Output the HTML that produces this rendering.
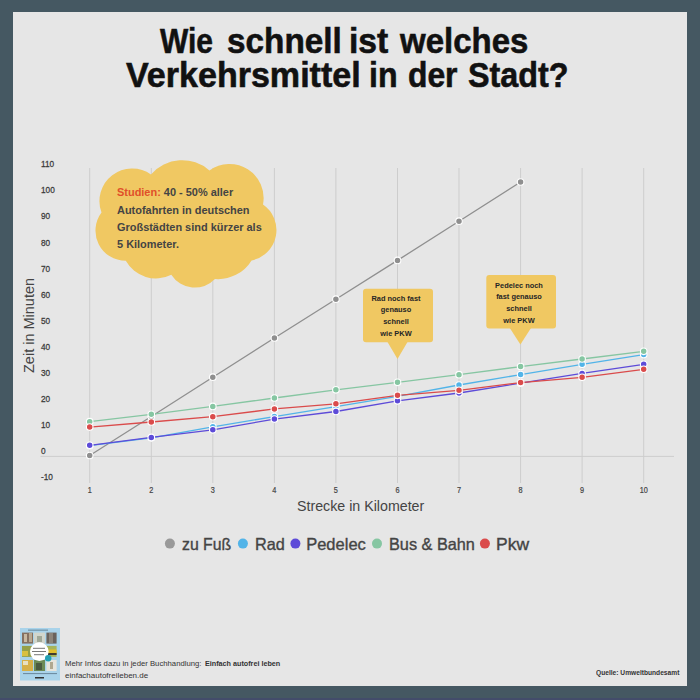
<!DOCTYPE html>
<html><head><meta charset="utf-8"><style>
html,body{margin:0;padding:0;}
body{width:700px;height:700px;background:#455862;position:relative;overflow:hidden;font-family:"Liberation Sans",sans-serif;}
#panel{position:absolute;left:13px;top:12px;width:674px;height:674px;background:#e6e6e6;}
.t{position:absolute;white-space:nowrap;transform-origin:0 0;}
svg{position:absolute;left:0;top:0;}
</style></head><body>
<div id="panel"></div><div style="position:absolute;left:0;top:698px;width:700px;height:2px;background:#434c6a"></div>
<div class="t" style="left:160.3px;top:20.5px;font-size:35.5px;font-weight:bold;color:#111;transform:scaleX(0.843);line-height:40px;-webkit-text-stroke:0.6px #111">Wie</div>
<div class="t" style="left:227.1px;top:20.5px;font-size:35.5px;font-weight:bold;color:#111;transform:scaleX(0.938);line-height:40px;-webkit-text-stroke:0.6px #111">schnell</div>
<div class="t" style="left:348.9px;top:20.5px;font-size:35.5px;font-weight:bold;color:#111;transform:scaleX(0.949);line-height:40px;-webkit-text-stroke:0.6px #111">ist</div>
<div class="t" style="left:399.9px;top:20.5px;font-size:35.5px;font-weight:bold;color:#111;transform:scaleX(0.929);line-height:40px;-webkit-text-stroke:0.6px #111">welches</div>
<div class="t" style="left:125.9px;top:54.7px;font-size:35.5px;font-weight:bold;color:#111;transform:scaleX(0.959);line-height:40px;-webkit-text-stroke:0.6px #111">Verkehrsmittel</div>
<div class="t" style="left:368.9px;top:54.7px;font-size:35.5px;font-weight:bold;color:#111;transform:scaleX(0.905);line-height:40px;-webkit-text-stroke:0.6px #111">in</div>
<div class="t" style="left:407.7px;top:54.7px;font-size:35.5px;font-weight:bold;color:#111;transform:scaleX(0.896);line-height:40px;-webkit-text-stroke:0.6px #111">der</div>
<div class="t" style="left:467.7px;top:54.7px;font-size:35.5px;font-weight:bold;color:#111;transform:scaleX(0.910);line-height:40px;-webkit-text-stroke:0.6px #111">Stadt?</div>
<svg width="700" height="700" viewBox="0 0 700 700">
<g stroke="#cdcdcd" stroke-width="1"><line x1="89.7" y1="168" x2="89.7" y2="483" /><line x1="151.3" y1="168" x2="151.3" y2="483" /><line x1="212.8" y1="168" x2="212.8" y2="483" /><line x1="274.4" y1="168" x2="274.4" y2="483" /><line x1="335.9" y1="168" x2="335.9" y2="483" /><line x1="397.5" y1="168" x2="397.5" y2="483" /><line x1="459.0" y1="168" x2="459.0" y2="483" /><line x1="520.6" y1="168" x2="520.6" y2="483" /><line x1="582.1" y1="168" x2="582.1" y2="483" /><line x1="643.7" y1="168" x2="643.7" y2="483" /><line x1="40.5" y1="456.4" x2="674" y2="456.4"/></g>
<g font-family="Liberation Sans" font-size="9px" fill="#3a3a3a" stroke="#3a3a3a" stroke-width="0.25"><text transform="translate(41 167.3) scale(0.92 1)">110</text><text transform="translate(41 193.4) scale(0.92 1)">100</text><text transform="translate(41 219.4) scale(0.92 1)">90</text><text transform="translate(41 245.5) scale(0.92 1)">80</text><text transform="translate(41 271.5) scale(0.92 1)">70</text><text transform="translate(41 297.6) scale(0.92 1)">60</text><text transform="translate(41 323.7) scale(0.92 1)">50</text><text transform="translate(41 349.7) scale(0.92 1)">40</text><text transform="translate(41 375.8) scale(0.92 1)">30</text><text transform="translate(41 401.8) scale(0.92 1)">20</text><text transform="translate(41 427.9) scale(0.92 1)">10</text><text transform="translate(41 454.0) scale(0.92 1)">0</text><text transform="translate(41 480.0) scale(0.92 1)">-10</text></g>
<g font-family="Liberation Sans" font-size="8.5px" fill="#444" stroke="#444" stroke-width="0.2" text-anchor="middle"><text transform="translate(89.7 492.7) scale(0.86 1)">1</text><text transform="translate(151.3 492.7) scale(0.86 1)">2</text><text transform="translate(212.8 492.7) scale(0.86 1)">3</text><text transform="translate(274.4 492.7) scale(0.86 1)">4</text><text transform="translate(335.9 492.7) scale(0.86 1)">5</text><text transform="translate(397.5 492.7) scale(0.86 1)">6</text><text transform="translate(459.0 492.7) scale(0.86 1)">7</text><text transform="translate(520.6 492.7) scale(0.86 1)">8</text><text transform="translate(582.1 492.7) scale(0.86 1)">9</text><text transform="translate(643.7 492.7) scale(0.86 1)">10</text></g>
<polyline points="89.7,455.5 151.3,416.5 212.8,377.2 274.4,338.0 335.9,299.2 397.5,260.4 459.0,221.2 520.6,182.0" fill="none" stroke="#8f8f8f" stroke-width="1.3"/><g fill="#8f8f8f" stroke="#fff" stroke-width="1.1"><circle cx="89.7" cy="455.5" r="3.3"/><circle cx="151.3" cy="416.5" r="3.3"/><circle cx="212.8" cy="377.2" r="3.3"/><circle cx="274.4" cy="338.0" r="3.3"/><circle cx="335.9" cy="299.2" r="3.3"/><circle cx="397.5" cy="260.4" r="3.3"/><circle cx="459.0" cy="221.2" r="3.3"/><circle cx="520.6" cy="182.0" r="3.3"/></g>
<polyline points="89.7,445.6 151.3,437.8 212.8,426.8 274.4,416.6 335.9,406.6 397.5,396.4 459.0,385.0 520.6,374.6 582.1,364.3 643.7,354.6" fill="none" stroke="#52b4e8" stroke-width="1.3"/><g fill="#52b4e8" stroke="#fff" stroke-width="1.1"><circle cx="89.7" cy="445.6" r="3.3"/><circle cx="151.3" cy="437.8" r="3.3"/><circle cx="212.8" cy="426.8" r="3.3"/><circle cx="274.4" cy="416.6" r="3.3"/><circle cx="335.9" cy="406.6" r="3.3"/><circle cx="397.5" cy="396.4" r="3.3"/><circle cx="459.0" cy="385.0" r="3.3"/><circle cx="520.6" cy="374.6" r="3.3"/><circle cx="582.1" cy="364.3" r="3.3"/><circle cx="643.7" cy="354.6" r="3.3"/></g>
<polyline points="89.7,445.3 151.3,437.4 212.8,429.8 274.4,419.1 335.9,411.5 397.5,400.8 459.0,393.0 520.6,383.2 582.1,373.4 643.7,364.3" fill="none" stroke="#5d4bd8" stroke-width="1.3"/><g fill="#5d4bd8" stroke="#fff" stroke-width="1.1"><circle cx="89.7" cy="445.3" r="3.3"/><circle cx="151.3" cy="437.4" r="3.3"/><circle cx="212.8" cy="429.8" r="3.3"/><circle cx="274.4" cy="419.1" r="3.3"/><circle cx="335.9" cy="411.5" r="3.3"/><circle cx="397.5" cy="400.8" r="3.3"/><circle cx="459.0" cy="393.0" r="3.3"/><circle cx="520.6" cy="383.2" r="3.3"/><circle cx="582.1" cy="373.4" r="3.3"/><circle cx="643.7" cy="364.3" r="3.3"/></g>
<polyline points="89.7,421.7 151.3,414.3 212.8,406.4 274.4,398.0 335.9,389.8 397.5,382.3 459.0,374.7 520.6,366.6 582.1,359.0 643.7,351.3" fill="none" stroke="#86c6a2" stroke-width="1.3"/><g fill="#86c6a2" stroke="#fff" stroke-width="1.1"><circle cx="89.7" cy="421.7" r="3.3"/><circle cx="151.3" cy="414.3" r="3.3"/><circle cx="212.8" cy="406.4" r="3.3"/><circle cx="274.4" cy="398.0" r="3.3"/><circle cx="335.9" cy="389.8" r="3.3"/><circle cx="397.5" cy="382.3" r="3.3"/><circle cx="459.0" cy="374.7" r="3.3"/><circle cx="520.6" cy="366.6" r="3.3"/><circle cx="582.1" cy="359.0" r="3.3"/><circle cx="643.7" cy="351.3" r="3.3"/></g>
<polyline points="89.7,427.1 151.3,422.0 212.8,416.7 274.4,408.9 335.9,403.8 397.5,395.3 459.0,390.3 520.6,382.6 582.1,377.3 643.7,369.3" fill="none" stroke="#da4b4b" stroke-width="1.3"/><g fill="#da4b4b" stroke="#fff" stroke-width="1.1"><circle cx="89.7" cy="427.1" r="3.3"/><circle cx="151.3" cy="422.0" r="3.3"/><circle cx="212.8" cy="416.7" r="3.3"/><circle cx="274.4" cy="408.9" r="3.3"/><circle cx="335.9" cy="403.8" r="3.3"/><circle cx="397.5" cy="395.3" r="3.3"/><circle cx="459.0" cy="390.3" r="3.3"/><circle cx="520.6" cy="382.6" r="3.3"/><circle cx="582.1" cy="377.3" r="3.3"/><circle cx="643.7" cy="369.3" r="3.3"/></g>

<path fill="#f0c862" d="M101.5,212.5 A32.7,32.7 0 0 1 151.0,174.4 A41.4,41.4 0 0 1 209.4,170.4 A34.2,34.2 0 0 1 263.0,204.6 A30.9,30.9 0 0 1 251.6,260.4 A39.2,39.2 0 0 1 215.0,279.0 A27.9,27.9 0 0 1 171.3,274.7 A34.4,34.4 0 0 1 125.8,260.8 A30.2,30.2 0 0 1 101.5,212.5Z"/>
<g fill="#f0c862">
<rect x="363" y="288.7" width="70" height="53.6" rx="3"/>
<polygon points="387.5,342 407.5,342 397.5,359"/>
<rect x="486.3" y="275" width="69.7" height="53.6" rx="3"/>
<polygon points="509.8,328 531,328 520.4,344.6"/>
</g>
<circle cx="169.9" cy="543.6" r="5" fill="#999"/>
<circle cx="242.9" cy="543.6" r="5" fill="#52b4e8"/>
<circle cx="295.4" cy="543.6" r="5" fill="#5d4bd8"/>
<circle cx="377" cy="543.6" r="5" fill="#86c6a2"/>
<circle cx="484.9" cy="543.6" r="5" fill="#da4b4b"/>
</svg>
<div class="t" style="left:116.5px;top:183.3px;font-size:11.6px;font-weight:bold;color:#444;line-height:17.3px;transform:scaleX(0.944)"><span style="color:#e0502a">Studien:</span> 40 - 50% aller<br>Autofahrten in deutschen<br>Großstädten sind kürzer als<br>5 Kilometer.</div>
<div class="t" style="left:361px;top:292.6px;width:70px;text-align:center;font-size:8px;font-weight:bold;color:#262626;line-height:11.8px;transform:scaleX(0.926);transform-origin:35px 0">Rad noch fast<br>genauso<br>schnell<br>wie PKW</div>
<div class="t" style="left:483.5px;top:279.6px;width:70px;text-align:center;font-size:8px;font-weight:bold;color:#262626;line-height:11.8px;transform:scaleX(0.926);transform-origin:35px 0">Pedelec noch<br>fast genauso<br>schnell<br>wie PKW</div>
<div class="t" style="left:21px;top:373px;font-size:15px;color:#444;transform:rotate(-90deg) scaleX(0.966);line-height:15px">Zeit in Minuten</div>
<div class="t" style="left:296.9px;top:498px;font-size:14.8px;color:#444;transform:scaleX(0.961);line-height:17px">Strecke in Kilometer</div>
<div class="t" style="left:182.1px;top:533.5px;font-size:16.5px;color:#444;transform:scaleX(0.958);line-height:20px;-webkit-text-stroke:0.35px #444">zu Fuß</div>
<div class="t" style="left:254.6px;top:533.5px;font-size:16.5px;color:#444;transform:scaleX(0.983);line-height:20px;-webkit-text-stroke:0.35px #444">Rad</div>
<div class="t" style="left:306.2px;top:533.5px;font-size:16.5px;color:#444;transform:scaleX(1.0);line-height:20px;-webkit-text-stroke:0.35px #444">Pedelec</div>
<div class="t" style="left:389px;top:533.5px;font-size:16.5px;color:#444;transform:scaleX(0.986);line-height:20px;-webkit-text-stroke:0.35px #444">Bus &amp; Bahn</div>
<div class="t" style="left:496px;top:533.5px;font-size:16.5px;color:#444;transform:scaleX(1.06);line-height:20px;-webkit-text-stroke:0.35px #444">Pkw</div>
<div class="t" style="left:65px;top:658px;font-size:8px;color:#333;line-height:11.5px;transform:scaleX(0.965)">Mehr Infos dazu in jeder Buchhandlung:</div><div class="t" style="left:204.5px;top:658px;font-size:8px;font-weight:bold;color:#333;line-height:11.5px;transform:scaleX(0.9)">Einfach autofrei leben</div><div class="t" style="left:65px;top:669.5px;font-size:8px;color:#333;line-height:11.5px;transform:scaleX(1.0)">einfachautofreileben.de</div>
<div class="t" style="left:595.7px;top:668.4px;font-size:7.5px;font-weight:bold;color:#333;line-height:10px;transform:scaleX(0.885)">Quelle: Umweltbundesamt</div>
<svg width="700" height="700" viewBox="0 0 700 700" style="pointer-events:none">
<rect x="20" y="628" width="40" height="52.5" fill="#a9d3ea"/>
<rect x="28" y="629.6" width="20" height="1.1" fill="#6d8da0"/>
<rect x="22" y="632.6" width="11" height="11" fill="#857060"/>
<rect x="24" y="634" width="3" height="8" fill="#c8b8a0"/>
<rect x="29" y="633" width="3" height="9" fill="#b8a890"/>
<rect x="34" y="632.6" width="11" height="11" fill="#d2d6cc"/>
<rect x="37" y="636" width="5" height="6" fill="#a0a898"/>
<rect x="46.4" y="632.6" width="10.2" height="11" fill="#6a625c"/>
<rect x="49" y="633" width="4" height="10" fill="#8c847a"/>
<rect x="22" y="645.9" width="11" height="11" fill="#95a048"/>
<rect x="22" y="651" width="6" height="5" fill="#d8c040"/>
<rect x="46.4" y="645.9" width="10.2" height="11" fill="#a6b45a"/>
<rect x="46.4" y="649.5" width="10.2" height="4.5" fill="#e0c030"/>
<rect x="46.4" y="653" width="10.2" height="2" fill="#403c30"/>
<rect x="22" y="660" width="11" height="11" fill="#d6b048"/>
<rect x="23" y="661" width="5" height="4" fill="#e8e0c0"/>
<rect x="34" y="660" width="11" height="11" fill="#6c8a56"/>
<rect x="36" y="663" width="6" height="7" fill="#4a5a40"/>
<rect x="46.4" y="660" width="10.2" height="11" fill="#e6e4dc"/>
<rect x="50" y="662" width="3" height="7" fill="#b0a890"/>
<circle cx="39.3" cy="651.6" r="9.3" fill="#fff"/>
<rect x="33" y="647.8" width="12" height="1" fill="#777"/>
<rect x="32" y="651" width="14" height="1" fill="#777"/>
<rect x="34" y="654.2" width="10" height="1" fill="#777"/>
<circle cx="48.2" cy="658.3" r="3.2" fill="#23a0b4"/>
<rect x="23" y="673" width="34" height="1.1" fill="#6f8ea3"/>
<rect x="35" y="677" width="9" height="1.5" fill="#333"/>
</svg>
</body></html>
